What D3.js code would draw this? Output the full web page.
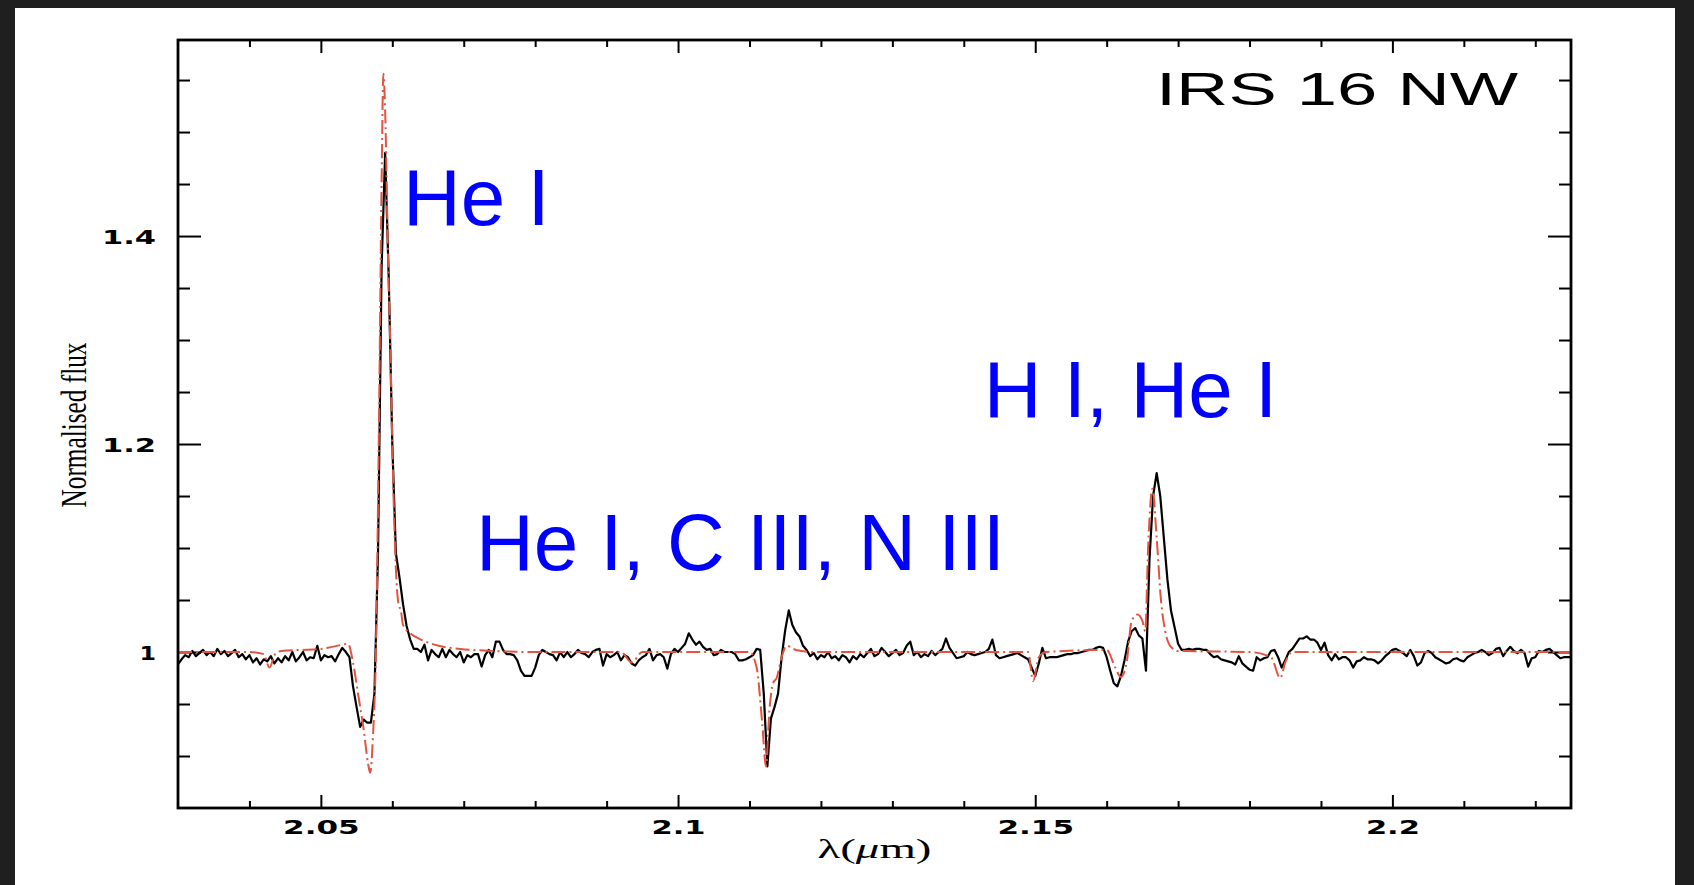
<!DOCTYPE html>
<html><head><meta charset="utf-8">
<script src="https://cdn.jsdelivr.net/npm/d3@7"></script>
<style>
html,body{margin:0;padding:0;background:#1f1f1f;overflow:hidden;}
svg{display:block;}
</style></head><body>
<svg id="c" width="1694" height="885"></svg>
<script>
// ---------------- data ----------------
const title = "IRS 16 NW";
const yTitle = "Normalised flux";
const xMajorTicks = [2.05, 2.1, 2.15, 2.2];
const yMajorTicks = [1, 1.2, 1.4];
const xDomain = [2.03, 2.225];
const yDomain = [0.85, 1.5885];

// observed spectrum on a regular wavelength grid (micron)
const waveStart = 2.030;
const waveStep = 0.0005;
const observedFlux = [
0.988,0.993,0.997,0.995,1.001,0.996,0.999,1.002,0.997,1.000,
0.996,1.003,0.998,1.001,0.996,0.999,1.002,0.995,0.998,0.993,
0.997,0.990,0.994,0.988,0.993,0.991,0.996,0.989,0.994,0.990,
0.996,0.992,1.000,0.991,0.995,
1.000,0.992,0.995,0.994,1.006,0.992,0.997,0.995,0.996,0.991,0.998,1.004,1.000,0.995,
0.967,0.947,0.928,0.935,0.932,0.932,0.960,
1.095,1.37,1.48,1.36,1.20,1.095,1.072,1.046,1.025,1.012,
1.003,1.003,1.000,1.007,0.992,1.002,0.998,0.995,1.003,0.995,
1.002,0.998,0.995,1.000,0.990,0.997,0.995,0.998,0.998,0.986,
0.997,1.002,0.995,1.010,1.010,1.002,0.998,0.998,0.997,0.992,
0.982,0.977,0.977,0.977,0.985,0.997,1.002,1.000,0.998,0.997,
0.992,1.000,0.995,1.000,0.995,0.998,1.002,0.999,0.998,0.995,
1.000,1.002,1.003,0.987,0.998,0.995,0.997,1.000,0.992,0.997,
0.995,0.989,0.987,0.992,0.995,0.997,1.003,0.992,0.997,0.998,
0.995,0.984,0.998,1.003,1.000,1.004,1.008,1.018,1.012,1.007,
1.010,1.005,1.002,1.003,0.997,0.998,1.002,1.000,1.000,1.000,
0.998,0.992,0.992,0.993,0.995,0.997,1.003,1.002,0.960,0.890,
0.936,0.947,0.960,0.995,1.021,1.040,1.026,1.019,1.015,
1.006,1.002,0.996,0.999,0.993,0.997,0.995,1.000,0.994,0.996,
0.992,0.997,0.995,0.990,0.996,0.993,0.998,0.995,0.999,1.003,
0.996,0.998,1.004,1.000,0.996,0.999,1.002,0.997,0.999,1.006,
1.010,0.997,1.000,0.995,0.998,0.996,1.001,0.997,1.000,1.003,
1.013,1.004,
0.999,0.994,0.995,0.996,1.000,0.998,0.997,0.998,0.999,1.000,
1.003,1.012,0.997,0.994,0.995,0.996,0.997,0.998,0.999,0.997,
0.995,0.993,0.985,0.977,0.989,1.004,0.994,0.995,0.995,0.995,
0.996,0.997,0.998,0.998,0.999,0.999,1.000,1.001,1.002,1.002,
1.004,1.005,1.004,0.995,0.982,0.970,0.967,0.977,0.992,1.010,
1.020,1.023,1.016,1.013,0.982,
1.09,1.15,1.172,1.15,1.11,1.07,1.04,1.024,1.008,
1.002,1.002,1.003,1.002,1.003,1.003,1.002,1.002,0.998,0.995,
0.996,0.993,0.992,0.991,0.990,0.988,0.996,0.989,0.986,0.983,
0.982,0.995,0.992,0.994,0.995,1.001,1.002,0.995,0.985,0.992,
1.000,1.003,1.008,1.013,1.013,1.015,1.012,1.012,1.009,1.002,
1.009,0.997,0.992,0.998,0.993,0.995,0.995,0.992,0.985,0.991,
0.992,0.995,0.993,0.993,0.992,0.989,0.992,0.996,0.999,1.002,
1.003,1.001,0.999,0.996,1.002,0.996,0.987,0.990,0.999,1.001,
0.999,0.995,0.993,0.991,0.989,0.990,0.993,0.994,0.992,0.991,
0.995,0.997,0.999,1.000,1.002,1.000,0.997,0.999,1.003,1.004,
0.996,1.001,1.005,1.001,0.999,1.002,0.999,0.986,0.994,0.995,
1.001,1.000,1.002,1.003,1.000,0.997,0.994,0.995,0.995,0.995
];

// model (red dash-dot)
const modelWave = [
2.0300,2.0400,2.0420,2.0428,2.0436,2.0445,2.0500,2.0530,2.0538,2.0545,
2.0552,2.0560,2.0566,2.0569,2.0573,2.0577,2.0581,2.0585,2.05875,2.0590,
2.0594,2.0597,2.0601,2.0605,2.0609,2.0612,2.0615,2.0625,2.0640,2.0665,
2.0695,2.0740,2.0800,2.0920,2.0935,2.0950,2.1100,2.1110,2.1118,2.1123,
2.1128,2.1133,2.1138,2.1145,2.1152,2.1165,2.1190,2.1490,2.1497,2.1505,
2.1515,2.1600,2.1612,2.1620,2.1628,2.1635,2.1643,2.1650,2.1654,2.1658,
2.1664,2.1670,2.1676,2.1682,2.1690,2.1700,2.1800,2.1830,2.1843,2.1850,
2.1860,2.2250
];
const modelFlux = [
1.000,1.000,0.998,0.985,0.998,1.001,1.003,1.007,1.008,0.990,
0.960,0.925,0.893,0.884,0.920,1.000,1.200,1.450,1.556,1.520,
1.380,1.300,1.170,1.080,1.045,1.040,1.026,1.018,1.012,1.006,
1.003,1.001,1.000,1.000,0.990,1.000,1.000,0.985,0.930,0.890,
0.945,0.970,0.975,0.995,1.006,1.002,1.000,1.000,0.972,0.995,
1.000,1.002,0.985,0.976,0.990,1.030,1.036,1.030,1.020,1.100,
1.157,1.110,1.050,1.020,1.005,1.001,1.000,0.995,0.975,0.990,
1.000,1.000
];

const annotations = ["He I", "He I, C III, N III", "H I, He I"];
const annotationWave = [2.0615, 2.0717, 2.1428];
const annotationFlux = [1.4106, 1.0784, 1.226];

// ---------------- layout ----------------
const L = 178, R = 1571, T = 40, B = 808;
const svg = d3.select("#c");
svg.append("rect").attr("x", 15).attr("y", 8).attr("width", 1660).attr("height", 877).attr("fill", "#ffffff");

const x = d3.scaleLinear().domain(xDomain).range([L, R]);
const y = d3.scaleLinear().domain(yDomain).range([B, T]);

svg.append("defs").append("clipPath").attr("id", "clip")
  .append("rect").attr("x", L).attr("y", T).attr("width", R - L).attr("height", B - T);

const xMinor = d3.range(2.04, 2.2201, 0.01).filter(v => !xMajorTicks.some(m => Math.abs(m - v) < 1e-6));
const yMinor = d3.range(0.9, 1.5801, 0.05).filter(v => !yMajorTicks.some(m => Math.abs(m - v) < 1e-6));

function drawAxis(axisFn, scale, vals, size, tr, withLabels) {
  const a = axisFn(scale).tickValues(vals).tickSizeInner(-size).tickSizeOuter(0);
  if (!withLabels) a.tickFormat("");
  else a.tickFormat(d => String(d));
  const g = svg.append("g").attr("transform", tr).call(a);
  g.select(".domain").remove();
  g.selectAll(".tick line").attr("stroke", "#000").attr("stroke-width", 2);
  return g;
}
// bottom
const gxb = drawAxis(d3.axisBottom, x, xMajorTicks, 13, `translate(0,${B})`, true);
drawAxis(d3.axisBottom, x, xMinor, 7, `translate(0,${B})`, false);
// top
drawAxis(d3.axisTop, x, xMajorTicks, 13, `translate(0,${T})`, false);
drawAxis(d3.axisTop, x, xMinor, 7, `translate(0,${T})`, false);
// left
const gyl = drawAxis(d3.axisLeft, y, yMajorTicks, 23, `translate(${L},0)`, true);
drawAxis(d3.axisLeft, y, yMinor, 12, `translate(${L},0)`, false);
// right
drawAxis(d3.axisRight, y, yMajorTicks, 23, `translate(${R},0)`, false);
drawAxis(d3.axisRight, y, yMinor, 12, `translate(${R},0)`, false);

function styleTickText(sel) {
  sel.attr("fill", "#000")
     .style("font-family", "'DejaVu Sans', sans-serif")
     .style("font-size", "19px")
     .style("font-weight", "bold")
     .each(function () {
       const n = this.textContent.length;
       const w = this.getComputedTextLength();
       if (n > 1) {
         this.setAttribute("textLength", 1.25 * w + 6 * (n - 1));
         this.setAttribute("lengthAdjust", "spacingAndGlyphs");
       } else {
         this.setAttribute("textLength", 1.25 * w);
         this.setAttribute("lengthAdjust", "spacingAndGlyphs");
       }
     });
}
gxb.selectAll(".tick text").attr("y", 26).attr("dy", 0);
styleTickText(gxb.selectAll(".tick text"));
gyl.selectAll(".tick text").attr("x", -22).attr("dy", 7);
styleTickText(gyl.selectAll(".tick text"));

// ---------------- lines ----------------
const obs = observedFlux.map((f, i) => [waveStart + i * waveStep, f]);
const model = modelWave.map((w, i) => [w, modelFlux[i]]);
const plot = svg.append("g").attr("clip-path", "url(#clip)");
plot.append("path").datum(obs)
  .attr("d", d3.line().x(d => x(d[0])).y(d => y(d[1])))
  .attr("fill", "none").attr("stroke", "#000").attr("stroke-width", 2.2).attr("stroke-linejoin", "round");
plot.append("path").datum(model)
  .attr("d", d3.line().curve(d3.curveMonotoneX).x(d => x(d[0])).y(d => y(d[1])))
  .attr("fill", "none").attr("stroke", "#e4533f").attr("stroke-width", 2)
  .attr("stroke-dasharray", "14,4,2,4");

// frame
svg.append("rect").attr("x", L).attr("y", T).attr("width", R - L).attr("height", B - T)
  .attr("fill", "none").attr("stroke", "#000").attr("stroke-width", 2.8);

// ---------------- texts ----------------
svg.append("text").attr("x", 1518).attr("y", 105).attr("text-anchor", "end")
  .style("font-family", "'Liberation Sans', Arial, sans-serif").style("font-size", "46px")
  .attr("textLength", 362).attr("lengthAdjust", "spacingAndGlyphs")
  .attr("fill", "#000").text(title);

svg.append("text").attr("transform", "translate(86,425) rotate(-90)").attr("text-anchor", "middle")
  .style("font-family", "'Liberation Serif', serif").style("font-size", "35px")
  .attr("textLength", 165).attr("lengthAdjust", "spacingAndGlyphs")
  .attr("fill", "#000").text(yTitle);

const xt = svg.append("text").attr("x", (L + R) / 2).attr("y", 858).attr("text-anchor", "middle")
  .style("font-family", "'Liberation Serif', serif").style("font-size", "27px")
  .attr("textLength", 114).attr("lengthAdjust", "spacingAndGlyphs").attr("fill", "#000");
xt.append("tspan").text("λ(");
xt.append("tspan").style("font-style", "italic").text("μ");
xt.append("tspan").text("m)");

svg.selectAll("text.ann").data(annotations).enter().append("text").attr("class", "ann")
  .attr("x", (d, i) => x(annotationWave[i])).attr("y", (d, i) => y(annotationFlux[i]))
  .style("font-family", "'Liberation Sans', Arial, sans-serif").style("font-size", "80px")
  .attr("fill", "#0000ff").text(d => d);
</script>
</body></html>
